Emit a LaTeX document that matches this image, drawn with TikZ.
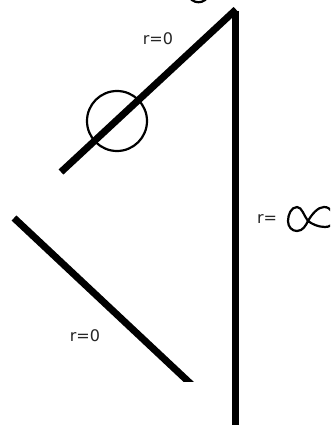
\documentclass[tikz,border=0pt]{standalone}
\usepackage{fontspec}
\setmainfont{DejaVu Sans}
\tikzset{
  wire/.style={line width=7pt},
  thincurve/.style={line width=2.2pt},
  lab/.style={font=\fontsize{16}{18}\selectfont, inner sep=0pt, text=black!85}
}
\begin{document}
\begin{tikzpicture}[x=1pt,y=-1pt]
\useasboundingbox (0,0) rectangle (330,425);
\fill[white] (0,0) rectangle (330,425);
\clip (0,0) rectangle (330,425);
\coordinate (apex) at (236,9.5);
\coordinate (top) at (235,11);
\coordinate (b) at (235,425);
\coordinate (d1) at (61,172);
\coordinate (d2s) at (14,218);
\coordinate (d2e) at (192,385);
\draw[wire] (d1) -- (apex);
\draw[wire] (top) -- (b);
\begin{scope}
\clip (0,200) rectangle (230,381);
\draw[wire] (d2s) -- (d2e);
\end{scope}
\node[draw,circle,line width=2.2pt,minimum size=60pt,inner sep=0pt] (c) at (117,121) {};
\node[lab] (l1) at (158,39) {r=0};
\node[lab] (l2) at (85,336) {r=0};
\node[lab] (l3) at (267,219) {r=};
\draw[thincurve] (297,207) .. controls (291,207) and (288,215) .. (288,221) .. controls (288,227) and (292,231) .. (297,231) .. controls (303,231) and (306,225) .. (308,221) .. controls (312,214) and (318,207) .. (324,207) .. controls (331,207) and (334,214) .. (334,219) .. controls (334,225) and (329,227) .. (325,227) .. controls (318,227) and (312,224) .. (308,221) .. controls (304,216) and (302,207) .. (297,207) -- cycle;
\draw[thincurve] (188,-6) .. controls (191,5) and (206,5) .. (209,-6);
\end{tikzpicture}
\end{document}
